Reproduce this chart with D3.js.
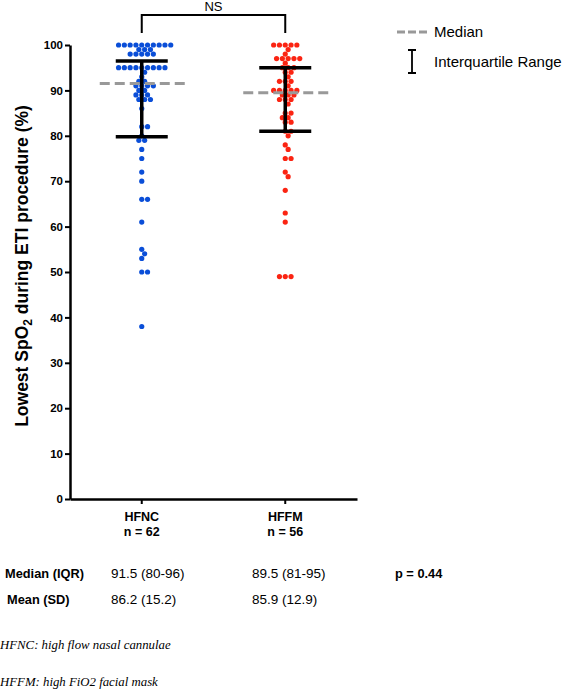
<!DOCTYPE html>
<html><head><meta charset="utf-8">
<script src="https://cdn.jsdelivr.net/npm/d3@7"></script>
<style>body{margin:0;background:#fff}svg{display:block}</style>
</head><body>
<svg id="c" width="567" height="692"></svg>
<script>
const categories = ["HFNC", "HFFM"];
const nLabels = ["n = 62", "n = 56"];
const hfncValues = [100,100,100,100,100,100,100,100,100,100,99,99,99,98,98,98,98,98,
  95,95,95,95,95,95,95,95,95,94,93,92,92,91,91,91,91,90,90,89,89,89,88,88,88,86,
  82,82,80,79,79,77,75,72,70,66,66,61,55,54,53,50,50,38];
const hffmValues = [100,100,100,100,100,99,98,97,97,97,97,97,96,95,95,95,94,94,93,92,92,92,91,
  90,90,90,90,90,89,89,89,88,88,88,87,85,85,84,84,83,83,81,81,80,78,77,75,75,72,71,68,63,61,49,49,49];
const medians = [91.5, 89.5];
const q1s = [79.8, 81];
const q3s = [96.5, 95];
const yTicks = [0,10,20,30,40,50,60,70,80,90,100];
const colors = ["#0a4ed8", "#fb2412"];
const tableRows = [
  ["Median (IQR)", "91.5 (80-96)", "89.5 (81-95)", "p = 0.44"],
  ["Mean (SD)", "86.2 (15.2)", "85.9 (12.9)", ""]
];
const footnotes = ["HFNC: high flow nasal cannulae", "HFFM: high FiO2 facial mask"];

const svg = d3.select("#c");
const FONT = "Liberation Sans, Arial, sans-serif";
const y = d3.scaleLinear().domain([0,100]).range([499,45]);
const x = d3.scaleBand().domain(categories).range([70,357]);
const cx = c => x(c) + x.bandwidth()/2;

// axes
const yAxis = svg.append("g").attr("transform","translate(70,0)")
  .call(d3.axisLeft(y).tickValues(yTicks).tickSize(5).tickSizeOuter(0));
yAxis.select(".domain").attr("stroke","#000").attr("stroke-width",2.5);
yAxis.selectAll(".tick line").attr("stroke","#000").attr("stroke-width",2);
yAxis.selectAll(".tick text").attr("font-family",FONT).attr("font-weight","bold")
  .attr("font-size","11.5px").attr("fill","#000").attr("x",-7);

const xAxis = svg.append("g").attr("transform","translate(0,499)")
  .call(d3.axisBottom(x).tickSize(5).tickSizeOuter(0).tickFormat(""));
xAxis.select(".domain").attr("stroke","#000").attr("stroke-width",2.5);
xAxis.selectAll(".tick line").attr("stroke","#000").attr("stroke-width",2);

categories.forEach((c,i)=>{
  svg.append("text").attr("x",cx(c)).attr("y",521).attr("text-anchor","middle")
    .attr("font-family",FONT).attr("font-weight","bold").attr("font-size","12.5px").text(c);
  svg.append("text").attr("x",cx(c)).attr("y",536).attr("text-anchor","middle")
    .attr("font-family",FONT).attr("font-weight","bold").attr("font-size","12.5px").text(nLabels[i]);
});

// y title
const yt = svg.append("text").attr("transform","translate(28,266) rotate(-90)")
  .attr("text-anchor","middle").attr("font-family",FONT).attr("font-weight","bold")
  .attr("font-size","17.5px");
yt.append("tspan").text("Lowest SpO");
yt.append("tspan").attr("font-size","12px").attr("dy",4).text("2");
yt.append("tspan").attr("dy",-4).text(" during ETI procedure (%)");

// beeswarm (grid-staggered, Prism-like)
const R = 2.6, D = 5.2, S = 5.8;
function swarm(vals, center){
  const pts = [];
  const sorted = vals.slice().sort((a,b)=>b-a);
  const cands = [0];
  for(let k=1;k<=40;k++){cands.push(k*S/2);cands.push(-k*S/2);}
  sorted.forEach(v=>{
    const py = y(v);
    for(const o of cands){
      const px = center+o;
      if(pts.every(p=>(p.x-px)**2+(p.y-py)**2 >= D*D - 0.01)){pts.push({x:px,y:py});break;}
    }
  });
  return pts;
}
[hfncValues, hffmValues].forEach((vals,i)=>{
  const pts = swarm(vals, cx(categories[i]));
  svg.append("g").selectAll("circle").data(pts).join("circle")
    .attr("cx",d=>d.x).attr("cy",d=>d.y).attr("r",R).attr("fill",colors[i]);
});

// median lines and IQR bars
categories.forEach((c,i)=>{
  const m = cx(c);
  svg.append("line").attr("x1",m-42).attr("x2",m+44).attr("y1",y(medians[i])).attr("y2",y(medians[i]))
    .attr("stroke","#999").attr("stroke-width",3).attr("stroke-dasharray","10,5");
  svg.append("line").attr("x1",m).attr("x2",m).attr("y1",y(q1s[i])).attr("y2",y(q3s[i]))
    .attr("stroke","#000").attr("stroke-width",3.5);
  [q1s[i],q3s[i]].forEach(q=>svg.append("line").attr("x1",m-26).attr("x2",m+26)
    .attr("y1",y(q)).attr("y2",y(q)).attr("stroke","#000").attr("stroke-width",3.5));
});

// significance bracket
const b1 = cx(categories[0]), b2 = cx(categories[1]);
svg.append("path").attr("d",`M${b1},33V15H${b2}V33`).attr("fill","none")
  .attr("stroke","#000").attr("stroke-width",2);
svg.append("text").attr("x",(b1+b2)/2).attr("y",11).attr("text-anchor","middle")
  .attr("font-family",FONT).attr("font-size","13px").text("NS");

// legend
svg.append("line").attr("x1",397).attr("x2",427).attr("y1",32).attr("y2",32)
  .attr("stroke","#999").attr("stroke-width",3).attr("stroke-dasharray","8,3");
svg.append("text").attr("x",434).attr("y",37).attr("font-family",FONT).attr("font-size","15px").text("Median");
svg.append("path").attr("d","M408,50H416M412,50V73M408,73H416").attr("stroke","#000")
  .attr("stroke-width",1.8).attr("fill","none");
svg.append("text").attr("x",434).attr("y",67).attr("font-family",FONT).attr("font-size","15px").text("Interquartile Range");

// table
const colX = [5,111,252,395];
tableRows.forEach((row,r)=>{
  row.forEach((t,j)=>{
    const bold = (j===0||j===3);
    svg.append("text").attr("x",colX[j]+(r===1&&j===0?2:0)).attr("y",578+r*26)
      .attr("font-family",FONT).attr("font-size",bold?"12.8px":"13.5px")
      .attr("font-weight",bold?"bold":"normal").text(t);
  });
});
footnotes.forEach((t,i)=>{
  svg.append("text").attr("x",0).attr("y",649+i*37).attr("font-family","Liberation Serif, Times New Roman, serif")
    .attr("font-style","italic").attr("font-size","12.8px").text(t);
});
</script>
</body></html>
